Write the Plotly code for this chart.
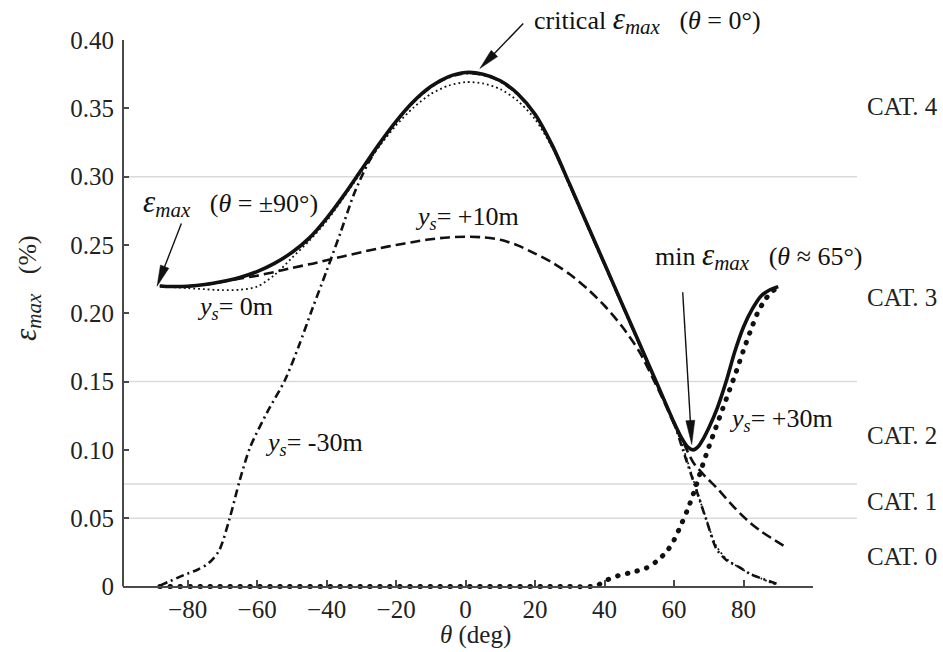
import math
import plotly.graph_objects as go

# ---------------- data ----------------
theta_env = [-88, -85, -80, -75, -70, -65, -60, -55, -50, -45, -40, -35, -30, -25, -20, -15, -10, -5, 0,
             5, 10, 15, 20, 25, 30, 35, 40, 45, 50, 55, 60, 62, 64, 65.5, 67, 68.5, 70, 72.5, 75, 77.5, 80,
             82.5, 85, 87.5, 90]
eps_env = [0.2200, 0.2196, 0.2198, 0.2210, 0.2232, 0.2262, 0.2305, 0.2365, 0.2445, 0.2550, 0.2695, 0.2865,
           0.3050, 0.3235, 0.3405, 0.3550, 0.3660, 0.3730, 0.3762, 0.3750, 0.3702, 0.3607, 0.3457, 0.3227,
           0.2942, 0.2652, 0.2362, 0.2072, 0.1782, 0.1492, 0.1200, 0.1095, 0.1020, 0.1000, 0.1025, 0.1085,
           0.1160, 0.1310, 0.1500, 0.1720, 0.1900, 0.2030, 0.2125, 0.2170, 0.2195]

theta_ys0 = [-88, -85, -80, -75, -70, -65, -60, -55, -50, -45, -40, -35, -30, -25, -20, -15, -10, -5, 0,
             5, 10, 15, 20, 25, 30, 35, 40, 45, 50, 55, 60, 63, 66, 69, 72, 75, 80, 85, 89]
eps_ys0 = [0.2200, 0.2192, 0.2184, 0.2176, 0.2169, 0.2172, 0.2195, 0.2280, 0.2405, 0.2530, 0.2675, 0.2850,
           0.3035, 0.3215, 0.3375, 0.3505, 0.3605, 0.3665, 0.3692, 0.3682, 0.3640, 0.3555, 0.3420, 0.3210,
           0.2930, 0.2642, 0.2352, 0.2062, 0.1772, 0.1482, 0.1190, 0.0985, 0.0745, 0.0515, 0.0305, 0.0205,
           0.0120, 0.0060, 0.0015]

theta_ysm30 = [-88, -85, -81, -77, -74, -71, -68, -65, -62, -57, -52, -48, -44, -40, -36, -32, -28, -24, -20,
               -15, -10, -5, 0, 5, 10, 15, 20, 25, 30, 35, 40, 45, 50, 55, 60, 62.6, 66.5, 69.4, 72.2, 75, 78.9,
               82, 85.6, 89.5]
eps_ysm30 = [0.0007, 0.0040, 0.0085, 0.0125, 0.0170, 0.0260, 0.0490, 0.0777, 0.1020, 0.1280, 0.1510, 0.1760,
             0.2040, 0.2310, 0.2590, 0.2880, 0.3100, 0.3265, 0.3400, 0.3545, 0.3655, 0.3725, 0.3757, 0.3745,
             0.3697, 0.3602, 0.3452, 0.3222, 0.2937, 0.2647, 0.2357, 0.2067, 0.1777, 0.1487, 0.1195, 0.0996,
             0.0700, 0.0480, 0.0276, 0.0195, 0.0140, 0.0090, 0.0056, 0.0020]

theta_ysp10 = [-88, -80, -72, -68, -64, -60, -55, -50, -45, -40, -35, -30, -25, -20, -15, -10, -5, 0, 5, 10,
               15, 20, 25, 30, 35, 40, 45, 50, 54, 57, 60, 62.5, 65.5, 69, 72, 75, 79, 82, 85, 88, 91.5]
eps_ysp10 = [0.2200, 0.2198, 0.2220, 0.2240, 0.2258, 0.2275, 0.2302, 0.2332, 0.2358, 0.2388, 0.2418, 0.2447,
             0.2475, 0.2500, 0.2522, 0.2542, 0.2555, 0.2560, 0.2556, 0.2538, 0.2497, 0.2437, 0.2370, 0.2285,
             0.2180, 0.2055, 0.1905, 0.1720, 0.1520, 0.1360, 0.1190, 0.1065, 0.0910, 0.0805, 0.0730, 0.0645,
             0.0535, 0.0465, 0.0405, 0.0355, 0.0300]

theta_ysp30 = [-88, -60, -30, 0, 30, 36, 38, 40, 44, 48, 52, 55, 58, 60, 62, 64, 66, 68, 70, 72, 74, 76, 78,
               80, 82, 84, 86, 88, 90]
eps_ysp30 = [0, 0, 0, 0, 0, 0, 0.0010, 0.0040, 0.0080, 0.0105, 0.0135, 0.0185, 0.0260, 0.0340, 0.0450, 0.0570,
             0.0710, 0.0870, 0.1020, 0.1160, 0.1300, 0.1440, 0.1580, 0.1730, 0.1870, 0.2000, 0.2090, 0.2155,
             0.2190]

x_ticks = [-80, -60, -40, -20, 0, 20, 40, 60, 80]
y_ticks = [0, 0.05, 0.10, 0.15, 0.20, 0.25, 0.30, 0.35, 0.40]
y_ticktext = ["0", "0.05", "0.10", "0.15", "0.20", "0.25", "0.30", "0.35", "0.40"]
cat_bounds = [0.30, 0.15, 0.075, 0.05]
cat_labels = ["CAT. 4", "CAT. 3", "CAT. 2", "CAT. 1", "CAT. 0"]

# ---------------- layout geometry ----------------
W, H = 943, 652
ML, MR, MT, MB = 123, 130, 40, 60
XR = [-98.6, 100.0]
YR = [-0.004, 0.40]
PW, PH = W - ML - MR, H - MT - MB
SX = PW / (XR[1] - XR[0])
SY = PH / (YR[1] - YR[0])


def pxx(px):
    return (px - ML) / PW


def pxy(py):
    return (H - MB - py) / PH


def dpx(x):
    return (x - XR[0]) / (XR[1] - XR[0])


def dpy(y):
    return (y - YR[0]) / (YR[1] - YR[0])


FONT = "Liberation Serif, Times New Roman, serif"
INK = "#111111"
FS = 25
FA = 26

fig = go.Figure()
fig.add_trace(go.Scatter(x=theta_ysp30, y=eps_ysp30, mode="lines", line=dict(color=INK, width=5, dash="0.5px,9.5px", shape="spline", smoothing=0.8), showlegend=False))
fig.add_trace(go.Scatter(x=theta_ysm30, y=eps_ysm30, mode="lines", line=dict(color=INK, width=2.6, dash="8px,4px,2px,4px", shape="spline", smoothing=0.8), showlegend=False))
fig.add_trace(go.Scatter(x=theta_ysp10, y=eps_ysp10, mode="lines", line=dict(color=INK, width=2.6, dash="10px,5px", shape="spline", smoothing=0.8), showlegend=False))
fig.add_trace(go.Scatter(x=theta_ys0, y=eps_ys0, mode="lines", line=dict(color=INK, width=1.8, dash="1.8px,3px", shape="spline", smoothing=0.8), showlegend=False))
fig.add_trace(go.Scatter(x=theta_env, y=eps_env, mode="lines", line=dict(color=INK, width=3.6, shape="spline", smoothing=0.8), showlegend=False))

shapes = []
for b in cat_bounds:
    shapes.append(dict(type="line", xref="paper", yref="y", x0=0, x1=pxx(857), y0=b, y1=b,
                       line=dict(color="#dadada", width=1.5), layer="below"))
# y axis line (from 0 to top)
shapes.append(dict(type="line", xref="paper", yref="y", x0=0, x1=0, y0=0, y1=YR[1],
                   line=dict(color="#4a4a4a", width=2)))


def arrow(tip, tail, head_len=21, head_w=9):
    dx = (tail[0] - tip[0]) * SX
    dy = (tail[1] - tip[1]) * SY
    L = math.hypot(dx, dy)
    ux, uy = dx / L, dy / L
    bx, by = ux * head_len, uy * head_len
    nx, ny = -uy * head_w / 2, ux * head_w / 2
    pts = [(0, 0), (bx + nx, by + ny), (bx - nx, by - ny)]
    pts = [(dpx(tip[0] + p[0] / SX), dpy(tip[1] + p[1] / SY)) for p in pts]
    path = "M{} {} L{} {} L{} {} Z".format(pts[0][0], pts[0][1], pts[1][0], pts[1][1], pts[2][0], pts[2][1])
    base = (dpx(tip[0] + bx * 0.7 / SX), dpy(tip[1] + by * 0.7 / SY))
    return [dict(type="line", xref="paper", yref="paper", x0=dpx(tail[0]), y0=dpy(tail[1]), x1=base[0],
                 y1=base[1], line=dict(color=INK, width=1.4)),
            dict(type="path", xref="paper", yref="paper", path=path, fillcolor=INK,
                 line=dict(color=INK, width=0.5))]


shapes += arrow((4.1, 0.3791), (16.6, 0.412))
shapes += arrow((-88.8, 0.2198), (-81.8, 0.2657))
shapes += arrow((65.1, 0.1040), (62.5, 0.2154), head_len=24, head_w=9)

EPS = ('<span style="font-size:31px"><i>ε</i></span>'
       '<sub><span style="font-size:21px"><i>max</i></span></sub>')
YS = "<i>y</i><sub><i>s</i></sub>"
NB = "\u00a0"
texts = [
    ("critical " + EPS + NB + NB + NB + "(<i>θ</i>" + NB + "=" + NB + "0°)", 532, 20),
    (EPS + NB + NB + NB + "(<i>θ</i>" + NB + "=" + NB + "±90°)", 141, 203),
    (YS + "=" + NB + "+10m", 413, 218),
    (YS + "=" + NB + "0m", 195, 308),
    (YS + "=" + NB + "-30m", 263, 444),
    ("min " + EPS + NB + NB + NB + "(<i>θ</i>" + NB + "≈" + NB + "65°)", 653, 256),
    (YS + "=" + NB + "+30m", 727, 420),
]
annotations = []
for t, x, y in texts:
    annotations.append(dict(text=t, xref="paper", yref="paper", x=pxx(x), y=pxy(y), xanchor="left",
                            yanchor="middle", showarrow=False, font=dict(family=FONT, size=FA, color=INK)))
cat_y = [107, 297, 435, 501, 556]
for lab, cy in zip(cat_labels, cat_y):
    annotations.append(dict(text=lab, xref="paper", yref="paper", x=pxx(865), y=pxy(cy),
                            xanchor="left", yanchor="middle", showarrow=False,
                            font=dict(family=FONT, size=FS, color="#222")))
annotations.append(dict(text="<i>θ</i> (deg)", xref="paper", yref="paper", x=pxx(475), y=pxy(635),
                        xanchor="center", yanchor="middle", showarrow=False,
                        font=dict(family=FONT, size=FS, color="#222")))
annotations.append(dict(text=EPS + NB + NB + NB + "(%)", xref="paper", yref="paper", x=pxx(27), y=pxy(288),
                        xanchor="center", yanchor="middle", textangle=-90, showarrow=False,
                        font=dict(family=FONT, size=FA, color="#222")))

fig.update_layout(
    width=W, height=H, margin=dict(l=ML, r=MR, t=MT, b=MB, autoexpand=False),
    paper_bgcolor="white", plot_bgcolor="white",
    font=dict(family=FONT, size=FS, color="#222"),
    shapes=shapes, annotations=annotations, showlegend=False,
    xaxis=dict(range=XR, tickvals=x_ticks, showgrid=False, zeroline=False, showline=True,
               linecolor="#4a4a4a", linewidth=2, ticks="inside", ticklen=6, tickwidth=1.5,
               tickcolor="#4a4a4a", anchor="free", position=(0 - YR[0]) / (YR[1] - YR[0]),
               tickfont=dict(family=FONT, size=FS, color="#222"), ticklabelstandoff=0),
    yaxis=dict(range=YR, tickvals=y_ticks, ticktext=y_ticktext, showgrid=False, zeroline=False,
               showline=False, ticks="inside", ticklen=6, tickwidth=1.5, tickcolor="#4a4a4a",
               tickfont=dict(family=FONT, size=FS, color="#222"), ticklabelstandoff=8),
)

post = """
var gd = document.getElementById('{plot_id}');
var tr = gd.querySelectorAll('.scatterlayer .trace');
if (tr.length) { tr[0].querySelectorAll('path').forEach(function(p){ p.style.strokeLinecap = 'round'; }); }
"""
fig.write_html("out.html", post_script=post)
